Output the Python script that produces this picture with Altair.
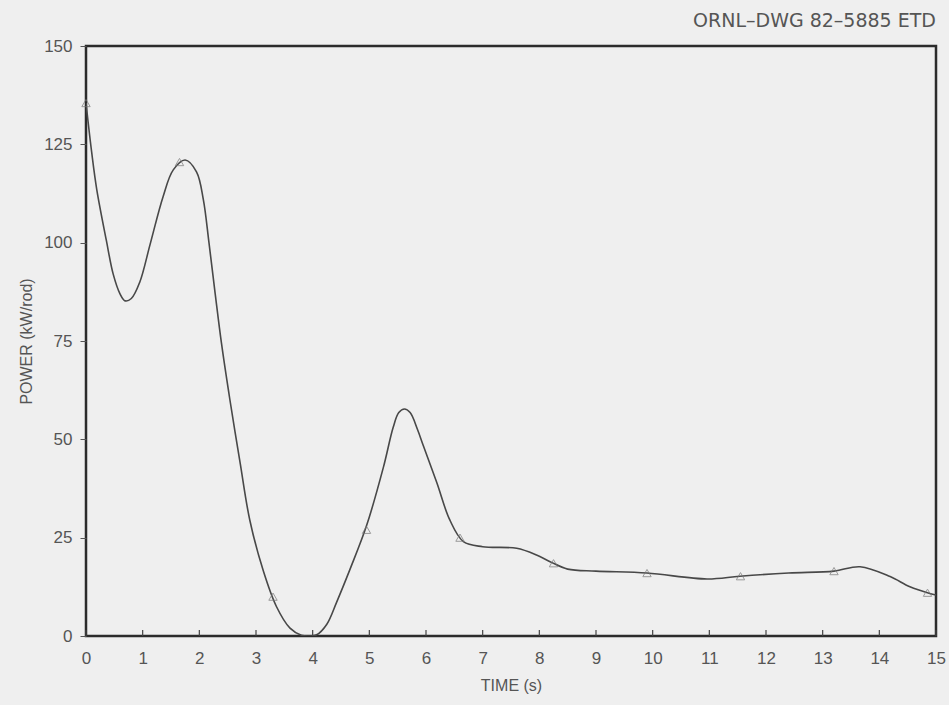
import altair as alt
import pandas as pd

# Curve (time in s, power in kW/rod)
time_s = [0.0, 0.1, 0.19, 0.36, 0.48, 0.6, 0.69, 0.8, 0.95, 1.13, 1.36, 1.54, 1.75, 1.95,
          2.07, 2.17, 2.28, 2.39, 2.54, 2.72, 2.89, 3.13, 3.36, 3.6, 3.8, 3.95, 4.07, 4.25,
          4.42, 4.66, 4.95, 5.25, 5.42, 5.52, 5.62, 5.72, 5.85, 5.95, 6.19, 6.42, 6.66, 7.0,
          7.6, 7.95, 8.19, 8.5, 9.0, 9.9, 10.96, 11.54, 12.4, 13.2, 13.66, 14.19, 14.54,
          14.89, 15.0]
power = [135.5, 123.0, 113.5, 100.5, 92.0, 87.0, 85.2, 85.8, 90.0, 99.5, 111.7, 118.5, 121.0,
         118.0, 111.0, 100.0, 87.0, 74.5, 60.0, 44.0, 29.5, 16.5, 7.5, 2.0, 0.2, 0.0, 0.3, 3.0,
         8.5, 17.0, 28.0, 43.0, 53.0, 56.8, 57.7, 56.8, 52.5, 48.5, 39.0, 29.5, 24.0, 22.7,
         22.3, 20.6, 18.9, 17.0, 16.5, 16.0, 14.5, 15.2, 16.0, 16.5, 17.6, 15.1, 12.5,
         10.8, 10.4]

# Triangle markers on the curve
marker_t = [0.0, 1.65, 3.3, 4.95, 6.6, 8.25, 9.9, 11.55, 13.2, 14.85]
marker_p = [135.5, 120.5, 10.0, 27.0, 25.0, 18.5, 16.0, 15.2, 16.5, 11.0]

x_ticks = list(range(16))
y_ticks = [0, 25, 50, 75, 100, 125, 150]
header = ["ORNL–DWG 82–5885  ETD"]

curve = pd.DataFrame({"t": time_s, "p": power})
marks = pd.DataFrame({"t": marker_t, "p": marker_p})
ticks = pd.DataFrame({"t": x_ticks})
head = pd.DataFrame({"label": header})

FONT = "Liberation Sans"
GREY = "#555555"

xscale = alt.Scale(domain=[0, 15], nice=False, zero=False)
yscale = alt.Scale(domain=[0, 150], nice=False)

x_axis = alt.Axis(title="TIME (s)", values=x_ticks, format="d", ticks=False, domain=False,
                  grid=False, labelPadding=14, labelFontSize=17, labelColor=GREY, labelFont=FONT,
                  titleFontSize=16, titleColor=GREY, titleFont=FONT, titleFontWeight="normal",
                  titlePadding=11, labelFlush=False)
y_axis = alt.Axis(title="POWER (kW/rod)", values=y_ticks, format="d", tickSize=6, tickColor=GREY,
                  domain=False, grid=False, labelPadding=8, labelFontSize=17, labelColor=GREY,
                  labelFont=FONT, titleFontSize=16, titleColor=GREY, titleFont=FONT,
                  titleFontWeight="normal", titlePadding=9, labelFlush=False)

line = alt.Chart(curve).mark_line(color="#484848", strokeWidth=1.6,
                                  interpolate="catmull-rom", clip=True).encode(
    x=alt.X("t:Q", scale=xscale, axis=x_axis),
    y=alt.Y("p:Q", scale=yscale, axis=y_axis),
)

pts = alt.Chart(marks).mark_point(shape="triangle-up", filled=False, color="#777777",
                                  size=70, strokeWidth=1).encode(
    x=alt.X("t:Q", scale=xscale),
    y=alt.Y("p:Q", scale=yscale),
)

xt = alt.Chart(ticks).mark_rule(color="#444444", strokeWidth=1.2).encode(
    x=alt.X("t:Q", scale=xscale),
    y=alt.value(590),
    y2=alt.value(584),
)

title_text = alt.Chart(head).mark_text(
    align="right", baseline="alphabetic", fontSize=19, font="DejaVu Sans", color=GREY
).encode(
    text="label:N",
    x=alt.value(850),
    y=alt.value(-19),
)

chart = alt.layer(xt, line, pts, title_text).properties(
    width=850,
    height=590,
    autosize=alt.AutoSizeParams(type="none"),
    padding={"left": 86, "top": 46, "right": 13, "bottom": 69},
    background="#efefef",
).configure_view(
    stroke="#2b2b2b", strokeWidth=2.5
)

chart.save("out.html", embed_options={"renderer": "svg", "actions": False})
